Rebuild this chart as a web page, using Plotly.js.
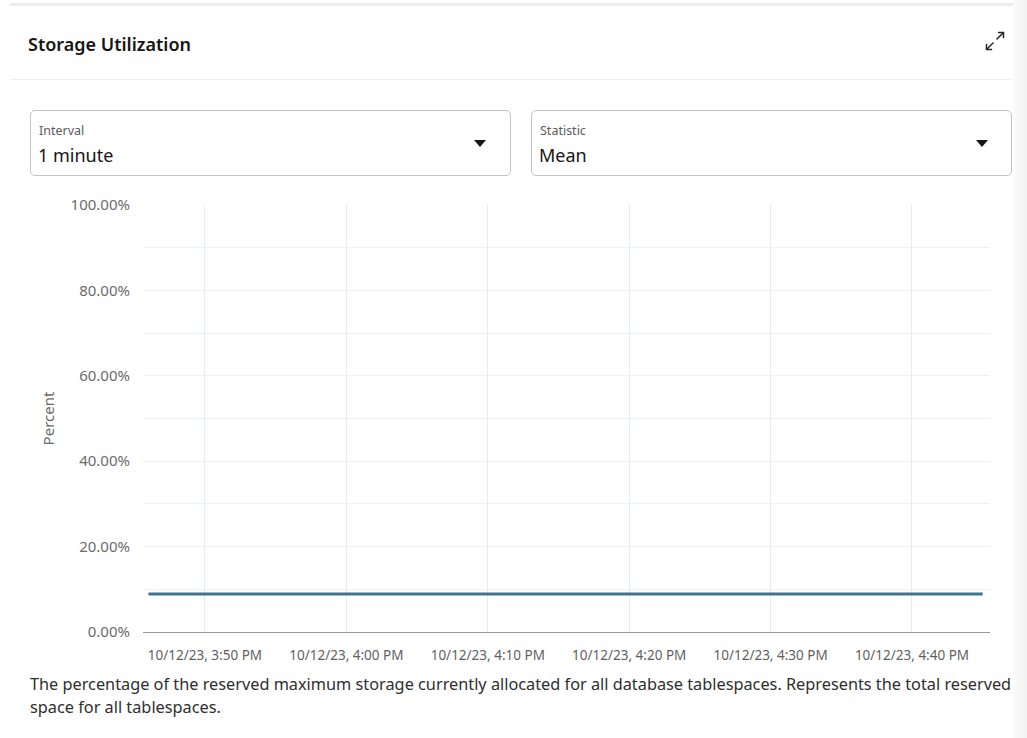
<!DOCTYPE html>
<html>
<head>
<meta charset="utf-8">
<script src="https://cdn.plot.ly/plotly-3.0.1.min.js"></script>
<style>
  html, body { margin:0; padding:0; background:#fff; width:1027px; height:738px; overflow:hidden; font-family:"Noto Sans", "Open Sans", sans-serif; }
  .topbar { position:absolute; left:10px; right:0; top:3px; height:3px; background:#ececec; }
  .rightstrip { position:absolute; top:0; right:0; width:14px; height:738px; background:linear-gradient(to right, #fbfbfb, #f3f3f3); }
  .title { position:absolute; left:28px; top:32px; font-size:18px; font-weight:600; color:#161513; }
  .sep { position:absolute; left:10px; right:15px; top:79px; height:1px; background:#efefef; }
  .dd { position:absolute; top:110px; height:64px; width:479px; border:1px solid #c4c4c4; border-radius:5px; box-sizing:content-box; }
  .dd .lab { position:absolute; left:8px; top:11px; font-size:12.5px; color:#5a5a5a; }
  .dd .val { position:absolute; left:7px; top:32px; font-size:18px; color:#161513; }
  .dd .caret { position:absolute; top:29px; width:0; height:0; border-left:6px solid transparent; border-right:6px solid transparent; border-top:7px solid #161513; }
  .desc { position:absolute; left:30px; top:673px; font-size:16.3px; line-height:23px; color:#2e2e2e; white-space:nowrap; }
  #chart { position:absolute; left:0; top:190px; width:1027px; height:480px; }
  .icon { position:absolute; left:982px; top:28px; }
</style>
</head>
<body>
<div class="topbar"></div>
<div class="rightstrip"></div>
<div class="title">Storage Utilization</div>
<svg class="icon" width="26" height="26" viewBox="0 0 26 26">
  <g stroke="#222" stroke-width="1.5" fill="none" stroke-linecap="round">
    <line x1="15" y1="11" x2="21" y2="5"/>
    <polyline points="16.5,4.5 21.5,4.5 21.5,9.5"/>
    <line x1="11" y1="15" x2="5" y2="21"/>
    <polyline points="4.5,16.5 4.5,21.5 9.5,21.5"/>
  </g>
</svg>
<div class="sep"></div>
<div class="dd" style="left:30px;">
  <div class="lab">Interval</div>
  <div class="val">1 minute</div>
  <div class="caret" style="left:443px;"></div>
</div>
<div class="dd" style="left:531px;">
  <div class="lab">Statistic</div>
  <div class="val">Mean</div>
  <div class="caret" style="left:444px;"></div>
</div>
<div id="chart"></div>
<div class="desc">The percentage of the reserved maximum storage currently allocated for all database tablespaces. Represents the total reserved<br>space for all tablespaces.</div>
<script>
const times = [
  "2023-10-12 15:46","2023-10-12 15:47","2023-10-12 15:48","2023-10-12 15:49","2023-10-12 15:50",
  "2023-10-12 15:51","2023-10-12 15:52","2023-10-12 15:53","2023-10-12 15:54","2023-10-12 15:55",
  "2023-10-12 15:56","2023-10-12 15:57","2023-10-12 15:58","2023-10-12 15:59","2023-10-12 16:00",
  "2023-10-12 16:01","2023-10-12 16:02","2023-10-12 16:03","2023-10-12 16:04","2023-10-12 16:05",
  "2023-10-12 16:06","2023-10-12 16:07","2023-10-12 16:08","2023-10-12 16:09","2023-10-12 16:10",
  "2023-10-12 16:11","2023-10-12 16:12","2023-10-12 16:13","2023-10-12 16:14","2023-10-12 16:15",
  "2023-10-12 16:16","2023-10-12 16:17","2023-10-12 16:18","2023-10-12 16:19","2023-10-12 16:20",
  "2023-10-12 16:21","2023-10-12 16:22","2023-10-12 16:23","2023-10-12 16:24","2023-10-12 16:25",
  "2023-10-12 16:26","2023-10-12 16:27","2023-10-12 16:28","2023-10-12 16:29","2023-10-12 16:30",
  "2023-10-12 16:31","2023-10-12 16:32","2023-10-12 16:33","2023-10-12 16:34","2023-10-12 16:35",
  "2023-10-12 16:36","2023-10-12 16:37","2023-10-12 16:38","2023-10-12 16:39","2023-10-12 16:40",
  "2023-10-12 16:41","2023-10-12 16:42","2023-10-12 16:43","2023-10-12 16:44","2023-10-12 16:45"
];
const storagePct = [
  8.9,8.9,8.9,8.9,8.9, 8.9,8.9,8.9,8.9,8.9,
  8.9,8.9,8.9,8.9,8.9, 8.9,8.9,8.9,8.9,8.9,
  8.9,8.9,8.9,8.9,8.9, 8.9,8.9,8.9,8.9,8.9,
  8.9,8.9,8.9,8.9,8.9, 8.9,8.9,8.9,8.9,8.9,
  8.9,8.9,8.9,8.9,8.9, 8.9,8.9,8.9,8.9,8.9,
  8.9,8.9,8.9,8.9,8.9, 8.9,8.9,8.9,8.9,8.9
];
const xTickVals = ["2023-10-12 15:50","2023-10-12 16:00","2023-10-12 16:10","2023-10-12 16:20","2023-10-12 16:30","2023-10-12 16:40"];
const xTickText = ["10/12/23, 3:50 PM","10/12/23, 4:00 PM","10/12/23, 4:10 PM","10/12/23, 4:20 PM","10/12/23, 4:30 PM","10/12/23, 4:40 PM"];
const yTickVals = [0,20,40,60,80,100];
const yTickText = ["0.00%","20.00%","40.00%","60.00%","80.00%","100.00%"];

const trace = {
  x: times, y: storagePct, type: "scatter", mode: "lines",
  line: {color: "#3a7591", width: 3}, name: "Storage Utilization", hoverinfo: "x+y"
};
const layout = {
  width: 1027, height: 480,
  margin: {l: 143, r: 37, t: 15, b: 38},
  paper_bgcolor: "rgba(0,0,0,0)", plot_bgcolor: "rgba(0,0,0,0)",
  showlegend: false,
  font: {family: "Noto Sans, Open Sans, sans-serif", size: 13, color: "#6b6b6b"},
  xaxis: {
    type: "date",
    range: ["2023-10-12 15:45:37", "2023-10-12 16:45:31"],
    tickvals: xTickVals, ticktext: xTickText,
    showgrid: true, gridcolor: "#e6edf0", gridwidth: 1,
    showline: true, linecolor: "#9a9a9a", linewidth: 1,
    zeroline: false, ticks: "", ticklabelstandoff: 11,
    tickfont: {size: 13.5, color: "#5f5f5f"}, fixedrange: true
  },
  yaxis: {
    range: [0, 100], tickvals: yTickVals, ticktext: yTickText,
    showgrid: true, gridcolor: "#edf1f3", gridwidth: 1,
    minor: {dtick: 10, showgrid: true, gridcolor: "#edf1f3", gridwidth: 1},
    zeroline: false, showline: false, ticks: "", ticklabelstandoff: 12,
    tickfont: {size: 15, color: "#6b6b6b"},
    title: {text: "Percent", font: {size: 15, color: "#6b6b6b"}, standoff: 12},
    fixedrange: true
  }
};
Plotly.newPlot("chart", [trace], layout, {displayModeBar: false, staticPlot: true});
</script>
</body>
</html>
